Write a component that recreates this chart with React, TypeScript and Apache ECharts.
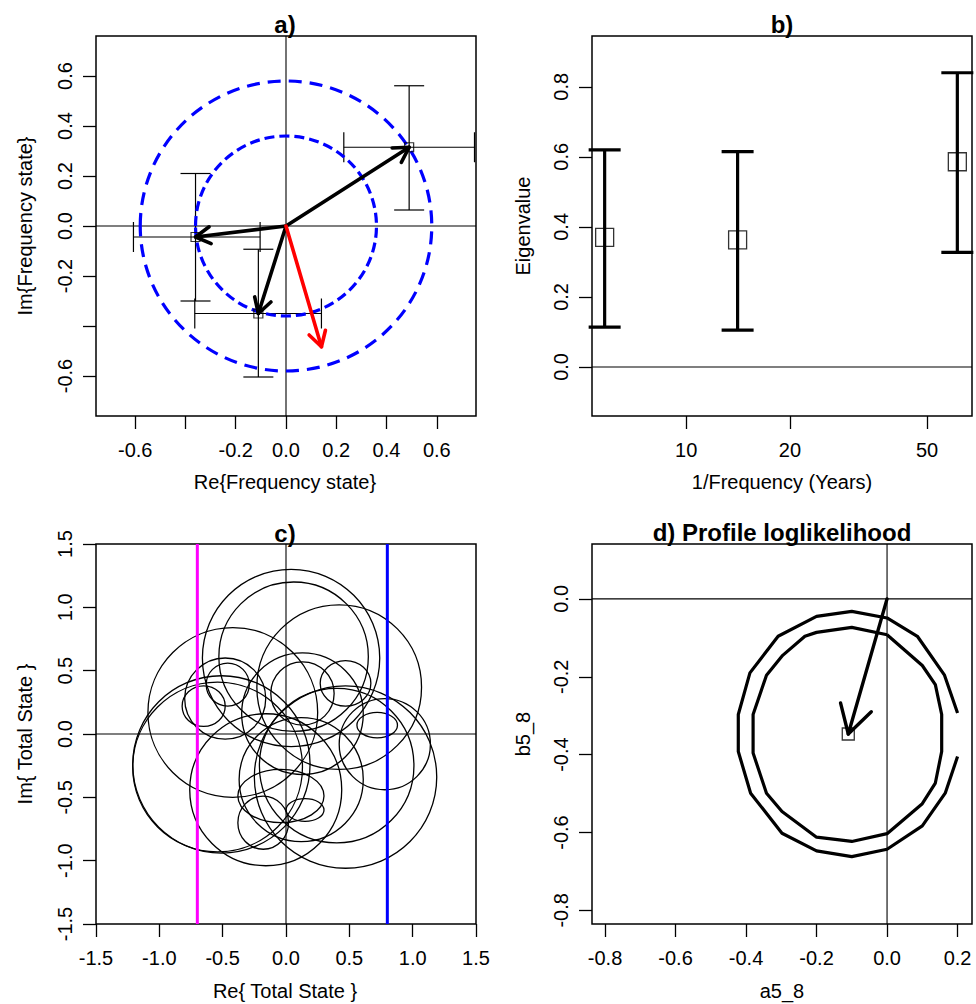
import React, { useEffect, useRef } from 'react';
import * as echarts from 'echarts';

const FONT = '"Liberation Sans", Arial, Helvetica, sans-serif';

// ---------- a) frequency states ----------
const stateRe = [0.49, -0.36, -0.11];
const stateIm = [0.315, -0.044, -0.35];
const stateReLow = [0.23, -0.607, -0.363];
const stateReHigh = [0.75, -0.103, 0.141];
const stateImLow = [0.064, -0.3, -0.604];
const stateImHigh = [0.561, 0.21, -0.093];
const redVector = [0.141, -0.483];
const modulusRadii = [0.58, 0.36];
const freqTicks = [-0.6, -0.4, -0.2, 0, 0.2, 0.4, 0.6];
const freqLabels = [-0.6, -0.2, 0, 0.2, 0.4, 0.6];

// ---------- b) eigenvalues ----------
const periodYears = [5.8, 14.1, 61.2];
const eigenvalue = [0.37, 0.363, 0.586];
const eigenLow = [0.114, 0.105, 0.327];
const eigenHigh = [0.62, 0.615, 0.84];
const periodTicks = [10, 20, 50];
const eigenTicks = [0, 0.2, 0.4, 0.6, 0.8];

// ---------- c) total state loci: [centre re, centre im, radius re, radius im] ----------
const totalCircles = [
  [0.04, 0.6, 0.7, 0.7],
  [0.06, 0.61, 0.59, 0.59],
  [0.42, 0.37, 0.65, 0.65],
  [-0.42, 0.17, 0.67, 0.67],
  [-0.54, -0.26, 0.67, 0.67],
  [-0.51, -0.24, 0.7, 0.7],
  [-0.16, -0.44, 0.6, 0.6],
  [0.47, -0.34, 0.72, 0.72],
  [0.4, -0.25, 0.61, 0.61],
  [0.47, 0.4, 0.2, 0.18],
  [0.72, 0.07, 0.16, 0.1],
  [0.78, -0.08, 0.36, 0.36],
  [0.13, 0.32, 0.25, 0.25],
  [-0.46, 0.39, 0.17, 0.17],
  [-0.65, 0.22, 0.17, 0.16],
  [-0.48, 0.28, 0.32, 0.32],
  [-0.04, -0.49, 0.34, 0.21],
  [-0.18, -0.7, 0.2, 0.21],
  [0.15, -0.6, 0.15, 0.09],
  [0.12, -0.36, 0.49, 0.49],
  [0.13, 0.16, 0.48, 0.48],
];
const magentaRe = -0.7;
const blueRe = 0.8;
const totalTicks = [-1.5, -1, -0.5, 0, 0.5, 1, 1.5];

// ---------- d) profile loglikelihood contours ----------
const outerContour = [
  [0.2, -0.293], [0.163, -0.196], [0.086, -0.096], [0, -0.049], [-0.1, -0.032],
  [-0.2, -0.045], [-0.309, -0.096], [-0.389, -0.19], [-0.422, -0.297], [-0.422, -0.392],
  [-0.387, -0.499], [-0.298, -0.602], [-0.2, -0.647], [-0.1, -0.662], [0, -0.643],
  [0.1, -0.583], [0.165, -0.499], [0.2, -0.405],
];
const innerContour = [
  [0, -0.092], [-0.1, -0.073], [-0.2, -0.086], [-0.233, -0.096], [-0.296, -0.145],
  [-0.342, -0.196], [-0.38, -0.297], [-0.38, -0.396], [-0.342, -0.499], [-0.298, -0.546],
  [-0.2, -0.612], [-0.1, -0.623], [0, -0.603], [0.1, -0.526], [0.137, -0.473],
  [0.155, -0.392], [0.155, -0.297], [0.137, -0.22], [0.1, -0.171], [0, -0.092],
];
const profileMax = [-0.11, -0.347];
const aTicks = [-0.8, -0.6, -0.4, -0.2, 0, 0.2];
const bTicks = [-0.8, -0.6, -0.4, -0.2, 0];

// axis ranges
const A_X = [-0.756, 0.756];
const A_Y = [-0.76, 0.76];
const B_X = [Math.log10(5.33), Math.log10(67.5)];
const B_Y = [-0.14, 0.945];
const C_X = [-1.5, 1.5];
const C_Y = [-1.5, 1.5];
const D_X = [-0.837, 0.241];
const D_Y = [-0.835, 0.141];

const fixed1 = (v: number) => v.toFixed(1);

function makeAxis(
  gridIndex: number,
  range: number[],
  ticks: number[],
  labels: number[],
  vertical: boolean,
  fmt: (v: number) => string
) {
  return {
    type: 'value',
    gridIndex,
    min: range[0],
    max: range[1],
    axisLine: { show: false, onZero: false },
    splitLine: { show: false },
    axisTick: {
      show: true,
      length: 13,
      customValues: ticks,
      lineStyle: { color: '#000', width: 1.3 },
    },
    axisLabel: {
      customValues: labels,
      formatter: fmt,
      fontSize: 20,
      fontFamily: FONT,
      color: '#000',
      margin: vertical ? 21 : 24,
      rotate: vertical ? 90 : 0,
      showMinLabel: true,
      showMaxLabel: true,
      hideOverlap: false,
    },
  };
}

function segment(idx: number, pts: number[][], color: string, width: number, z = 2) {
  return {
    type: 'line',
    xAxisIndex: idx,
    yAxisIndex: idx,
    data: pts,
    symbol: 'none',
    silent: true,
    z,
    lineStyle: { color, width },
  };
}

function arrowSeries(idx: number, data: number[][], color: string, width: number, head: number) {
  return {
    type: 'custom',
    xAxisIndex: idx,
    yAxisIndex: idx,
    data,
    silent: true,
    z: 4,
    renderItem: (_p: any, api: any) => {
      const p0 = api.coord([api.value(0), api.value(1)]);
      const p1 = api.coord([api.value(2), api.value(3)]);
      const ang = Math.atan2(p1[1] - p0[1], p1[0] - p0[0]);
      const spread = Math.PI / 6;
      const h1 = [p1[0] - head * Math.cos(ang - spread), p1[1] - head * Math.sin(ang - spread)];
      const h2 = [p1[0] - head * Math.cos(ang + spread), p1[1] - head * Math.sin(ang + spread)];
      const style = { stroke: color, lineWidth: width, fill: 'none', lineCap: 'round', lineJoin: 'round' };
      return {
        type: 'group',
        children: [
          { type: 'line', shape: { x1: p0[0], y1: p0[1], x2: p1[0], y2: p1[1] }, style },
          { type: 'polyline', shape: { points: [h1, p1, h2] }, style },
        ],
      };
    },
  };
}

function ellipseSeries(idx: number, data: number[][], stroke: string, width: number, dashes?: number[][]) {
  return {
    type: 'custom',
    xAxisIndex: idx,
    yAxisIndex: idx,
    data,
    silent: true,
    z: 3,
    renderItem: (params: any, api: any) => {
      const c = api.coord([api.value(0), api.value(1)]);
      const s = api.size([api.value(2), api.value(3)]);
      const style: any = { fill: 'none', stroke, lineWidth: width };
      if (dashes) style.lineDash = dashes[params.dataIndex % dashes.length];
      return { type: 'ellipse', shape: { cx: c[0], cy: c[1], rx: s[0], ry: s[1] }, style };
    },
  };
}

function txt(text: string, x: number, y: number, size: number, bold = false, vertical = false) {
  return {
    type: 'text',
    x,
    y,
    rotation: vertical ? Math.PI / 2 : 0,
    z: 20,
    silent: true,
    style: {
      text,
      fontSize: size,
      fontWeight: bold ? 'bold' : 'normal',
      fontFamily: FONT,
      fill: '#000',
      align: 'center',
      verticalAlign: 'middle',
    },
  };
}

function buildOption() {
  const grids = [
    { left: 96, top: 36, width: 380, height: 380 },
    { left: 592, top: 36, width: 380, height: 380 },
    { left: 96, top: 544, width: 380, height: 380 },
    { left: 592, top: 544, width: 380, height: 380 },
  ].map((g) => ({
    ...g,
    show: true,
    borderColor: '#000',
    borderWidth: 1.5,
    backgroundColor: 'transparent',
    containLabel: false,
    outerBoundsMode: 'none',
  }));

  const logTicks = periodTicks.map((p) => Math.log10(p));

  const xAxis = [
    makeAxis(0, A_X, freqTicks, freqLabels, false, fixed1),
    makeAxis(1, B_X, logTicks, logTicks, false, (v) => String(Math.round(Math.pow(10, v)))),
    makeAxis(2, C_X, totalTicks, totalTicks, false, fixed1),
    makeAxis(3, D_X, aTicks, aTicks, false, fixed1),
  ];
  const yAxis = [
    makeAxis(0, A_Y, freqTicks, freqLabels, true, fixed1),
    makeAxis(1, B_Y, eigenTicks, eigenTicks, true, fixed1),
    makeAxis(2, C_Y, totalTicks, totalTicks, true, fixed1),
    makeAxis(3, D_Y, bTicks, bTicks, true, fixed1),
  ];

  const series: any[] = [];

  // a) reference axes, error bars, state vectors, modulus circles
  series.push(segment(0, [[A_X[0], 0], [A_X[1], 0]], '#000', 1.1));
  series.push(segment(0, [[0, A_Y[0]], [0, A_Y[1]]], '#000', 1.1));
  series.push({
    type: 'custom',
    xAxisIndex: 0,
    yAxisIndex: 0,
    silent: true,
    z: 3,
    data: stateRe.map((x, i) => [x, stateIm[i], stateReLow[i], stateReHigh[i], stateImLow[i], stateImHigh[i]]),
    renderItem: (_p: any, api: any) => {
      const x = api.value(0);
      const y = api.value(1);
      const p = api.coord([x, y]);
      const xl = api.coord([api.value(2), y])[0];
      const xh = api.coord([api.value(3), y])[0];
      const yl = api.coord([x, api.value(4)])[1];
      const yh = api.coord([x, api.value(5)])[1];
      const cap = 15;
      const style = { stroke: '#000', lineWidth: 1.2 };
      const ln = (x1: number, y1: number, x2: number, y2: number) => ({
        type: 'line',
        shape: { x1, y1, x2, y2 },
        style,
      });
      return {
        type: 'group',
        children: [
          ln(xl, p[1], xh, p[1]),
          ln(xl, p[1] - cap, xl, p[1] + cap),
          ln(xh, p[1] - cap, xh, p[1] + cap),
          ln(p[0], yl, p[0], yh),
          ln(p[0] - cap, yl, p[0] + cap, yl),
          ln(p[0] - cap, yh, p[0] + cap, yh),
        ],
      };
    },
  });
  series.push(arrowSeries(0, stateRe.map((x, i) => [0, 0, x, stateIm[i]]), '#000', 3.6, 17));
  series.push(arrowSeries(0, [[0, 0, redVector[0], redVector[1]]], '#ff0000', 3.6, 17));
  series.push({
    type: 'scatter',
    xAxisIndex: 0,
    yAxisIndex: 0,
    silent: true,
    z: 5,
    symbol: 'rect',
    symbolSize: 9,
    data: stateRe.map((x, i) => [x, stateIm[i]]),
    itemStyle: { color: 'rgba(0,0,0,0)', borderColor: '#000', borderWidth: 1.2 },
  });
  series.push(
    ellipseSeries(0, modulusRadii.map((r) => [0, 0, r, r]), '#0000ff', 3.2, [
      [13, 8],
      [10, 5],
    ])
  );

  // b) eigenvalues against period
  series.push(segment(1, [[B_X[0], 0], [B_X[1], 0]], '#000', 1.1));
  series.push({
    type: 'custom',
    xAxisIndex: 1,
    yAxisIndex: 1,
    silent: true,
    z: 3,
    data: periodYears.map((p, i) => [Math.log10(p), eigenLow[i], eigenHigh[i]]),
    renderItem: (_p: any, api: any) => {
      const lo = api.coord([api.value(0), api.value(1)]);
      const hi = api.coord([api.value(0), api.value(2)]);
      const cap = 16;
      const style = { stroke: '#000', lineWidth: 3.2 };
      return {
        type: 'group',
        children: [
          { type: 'line', shape: { x1: lo[0], y1: lo[1], x2: hi[0], y2: hi[1] }, style },
          { type: 'line', shape: { x1: lo[0] - cap, y1: lo[1], x2: lo[0] + cap, y2: lo[1] }, style },
          { type: 'line', shape: { x1: hi[0] - cap, y1: hi[1], x2: hi[0] + cap, y2: hi[1] }, style },
        ],
      };
    },
  });
  series.push({
    type: 'scatter',
    xAxisIndex: 1,
    yAxisIndex: 1,
    silent: true,
    z: 5,
    symbol: 'rect',
    symbolSize: 18,
    data: periodYears.map((p, i) => [Math.log10(p), eigenvalue[i]]),
    itemStyle: { color: 'rgba(0,0,0,0)', borderColor: '#000', borderWidth: 1.3 },
  });

  // c) total state loci
  series.push(segment(2, [[C_X[0], 0], [C_X[1], 0]], '#000', 1.1));
  series.push(segment(2, [[0, C_Y[0]], [0, C_Y[1]]], '#000', 1.1));
  series.push(ellipseSeries(2, totalCircles, '#000', 1.3));
  series.push(segment(2, [[magentaRe, C_Y[0]], [magentaRe, C_Y[1]]], '#ff00ff', 3, 6));
  series.push(segment(2, [[blueRe, C_Y[0]], [blueRe, C_Y[1]]], '#0000ff', 3, 6));

  // d) profile loglikelihood
  series.push(segment(3, [[D_X[0], 0], [D_X[1], 0]], '#000', 1.1));
  series.push(segment(3, [[0, D_Y[0]], [0, D_Y[1]]], '#000', 1.1));
  series.push(segment(3, outerContour, '#000', 3.2, 3));
  series.push(segment(3, innerContour, '#000', 3.2, 3));
  series.push(arrowSeries(3, [[0, 0, profileMax[0], profileMax[1]]], '#000', 3.4, 32));
  series.push({
    type: 'scatter',
    xAxisIndex: 3,
    yAxisIndex: 3,
    silent: true,
    z: 5,
    symbol: 'rect',
    symbolSize: 12,
    data: [profileMax],
    itemStyle: { color: 'rgba(0,0,0,0)', borderColor: '#000', borderWidth: 1.3 },
  });

  const graphic = [
    txt('a)', 285, 24, 24, true),
    txt('b)', 782, 24, 24, true),
    txt('c)', 285, 533, 24, true),
    txt('d) Profile loglikelihood', 782, 532, 24, true),
    txt('Re{Frequency state}', 285, 482, 20),
    txt('1/Frequency (Years)', 782, 482, 20),
    txt('Re{ Total State }', 285, 991, 20),
    txt('a5_8', 782, 991, 20),
    txt('Im{Frequency state}', 25, 226, 20, false, true),
    txt('Eigenvalue', 523, 226, 20, false, true),
    txt('Im{ Total State }', 25, 734, 20, false, true),
    txt('b5_8', 523, 734, 20, false, true),
  ];

  return {
    animation: false,
    backgroundColor: '#fff',
    grid: grids,
    xAxis,
    yAxis,
    series,
    graphic,
  };
}

export default function App() {
  const ref = useRef<HTMLDivElement>(null);
  useEffect(() => {
    if (!ref.current) return;
    const chart = echarts.init(ref.current, undefined, { renderer: 'svg' });
    chart.setOption(buildOption() as any);
    return () => chart.dispose();
  }, []);
  return (
    <div
      ref={ref}
      style={{ position: 'fixed', left: 0, top: 0, width: 976, height: 1004, background: '#fff' }}
    />
  );
}
